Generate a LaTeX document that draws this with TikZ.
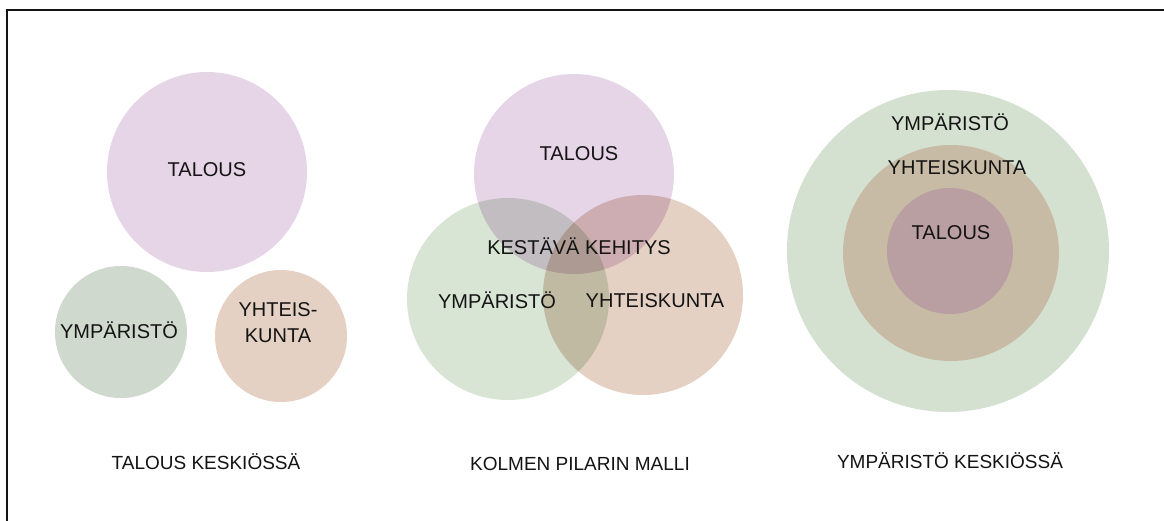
\documentclass[tikz,border=0pt]{standalone}
\usepackage{fontspec}
\setmainfont{Liberation Sans}
\definecolor{purp}{HTML}{E6D4E7}
\definecolor{grn}{HTML}{D8E4D4}
\definecolor{brn}{HTML}{E4D1C4}
\definecolor{leftgrn}{HTML}{D0D9CD}
\definecolor{outgrn}{HTML}{D5E1D0}
\definecolor{midbrn}{HTML}{C8BBA6}
\definecolor{inpurp}{HTML}{B99EA2}
\definecolor{ink}{HTML}{141414}
\begin{document}
\begin{tikzpicture}[x=1pt,y=-1pt,
  disc/.style={circle,draw=none,inner sep=0pt,minimum size=#1},
  lbl/.style={font=\fontsize{20}{26}\selectfont,text=ink,inner sep=0pt,
    text height=14.3pt,text depth=0pt,align=center},
  captext/.style={font=\fontsize{19}{24}\selectfont,text=ink,inner sep=0pt,
    text height=13.6pt,text depth=0pt}]
\useasboundingbox (0,0) rectangle (1164,520);
\fill[white] (0,0) rectangle (1164,520);
% frame
\draw[ink,line width=2pt] (6.5,521) |- (1165,9.5);

% --- economy at the centre
\node[disc=200pt,fill=purp] (lt) at (207,172) {};
\node[disc=132pt,fill=leftgrn] (le) at (121,332) {};
\node[disc=132pt,fill=brn] (ls) at (281,336) {};
\node[lbl] (ltl) at (207,169) {TALOUS};
\node[lbl] (lel) at (119,331) {YMPÄRISTÖ};
\node[lbl,text height=40.3pt] (lsl) at (278,322) {YHTEIS-\\KUNTA};
\node[captext] (lcap) at (206,463) {TALOUS KESKIÖSSÄ};

% --- three pillars
\begin{scope}[blend group=multiply]
\node[disc=200pt,fill=purp] (mt) at (574,174) {};
\node[disc=202pt,fill=grn] (me) at (508,299) {};
\node[disc=200pt,fill=brn] (ms) at (643,295) {};
\end{scope}
\node[lbl] (mtl) at (579,153) {TALOUS};
\node[lbl] (mkl) at (579,247) {KESTÄVÄ KEHITYS};
\node[lbl] (mel) at (497,301) {YMPÄRISTÖ};
\node[lbl] (msl) at (655,300) {YHTEISKUNTA};
\node[captext] (mcap) at (580,464) {KOLMEN PILARIN MALLI};

% --- environment at the centre
\node[disc=322pt,fill=outgrn] (re) at (948,251) {};
\node[disc=216pt,fill=midbrn] (rs) at (951,253) {};
\node[disc=126pt,fill=inpurp] (rt) at (950,251) {};
\node[lbl] (rel) at (950,123) {YMPÄRISTÖ};
\node[lbl] (rsl) at (957,167) {YHTEISKUNTA};
\node[lbl] (rtl) at (951,232) {TALOUS};
\node[captext] (rcap) at (950,462) {YMPÄRISTÖ KESKIÖSSÄ};
\end{tikzpicture}
\end{document}
